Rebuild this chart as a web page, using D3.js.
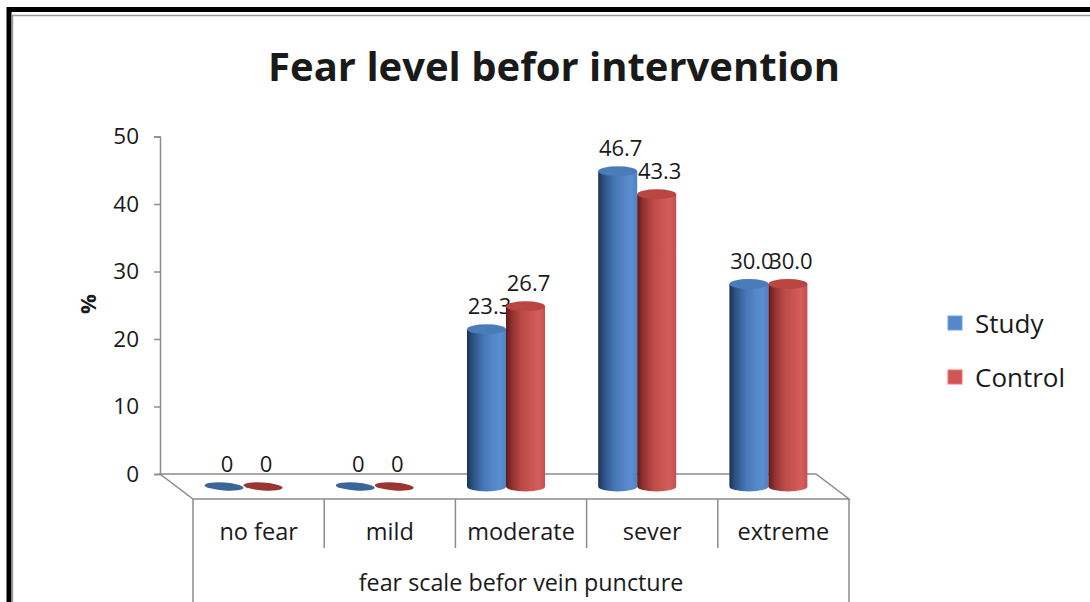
<!DOCTYPE html>
<html>
<head>
<meta charset="utf-8">
<script src="https://cdn.jsdelivr.net/npm/d3@7"></script>
<style>
  html, body { margin: 0; padding: 0; background: #fff; }
  svg { display: block; }
  text { font-family: "Open Sans", "DejaVu Sans", sans-serif; fill: #1a1a1a; }
</style>
</head>
<body>
<svg id="chart" width="1090" height="602"></svg>
<script>
// Fear level categories and percentages per group
const categories = ["no fear", "mild", "moderate", "sever", "extreme"];
const studyValues = [0, 0, 23.3, 46.7, 30.0];
const controlValues = [0, 0, 26.7, 43.3, 30.0];
const seriesNames = ["Study", "Control"];
const yTickValues = [0, 10, 20, 30, 40, 50];

const chartTitle = "Fear level befor intervention";
const xAxisTitle = "fear scale befor vein puncture";
const yAxisTitle = "%";

const seriesValues = [studyValues, controlValues];
const rows = categories.map((c, i) => ({
  category: c,
  values: seriesNames.map((s, j) => ({ series: s, value: seriesValues[j][i] }))
}));

const svg = d3.select("#chart");

// outer frame
svg.append("rect").attr("x", 0).attr("y", 0).attr("width", 1090).attr("height", 602).attr("fill", "#fff");
svg.append("path").attr("d", "M9,602 V9.5 H1090").attr("fill", "none").attr("stroke", "#000").attr("stroke-width", 5);
svg.append("path").attr("d", "M12.5,602 V15.5 H1090").attr("fill", "none").attr("stroke", "#9a9a9a").attr("stroke-width", 1.5);

// title
svg.append("text")
  .attr("x", 554).attr("y", 81)
  .attr("text-anchor", "middle")
  .attr("font-size", 40).attr("font-weight", 700)
  .text(chartTitle);

// 3D floor geometry: back wall edge and depth offset toward the viewer
const depthX = 33, depthY = 25;
const y = d3.scaleLinear().domain([0, 50]).range([474, 136.5]);
const xBack = d3.scaleBand().domain(categories).range([160, 816]);
const barW = 39;
const xSeries = d3.scaleBand().domain(seriesNames)
  .range([xBack.bandwidth() / 2 - barW + 1.5, xBack.bandwidth() / 2 + barW + 1.5]);

const axisColor = "#8c8c8c";

// category bracket lines under the floor
const frontX = d => xBack(d) + depthX;
const frontEnd = xBack.range()[1] + depthX;
const boundaries = categories.map(frontX).concat([frontEnd]);
svg.append("g").selectAll("line").data(boundaries).join("line")
  .attr("x1", d => d).attr("x2", d => d)
  .attr("y1", y(0) + depthY)
  .attr("y2", (d, i) => (i === 0 || i === boundaries.length - 1) ? 602 : 548)
  .attr("stroke", axisColor).attr("stroke-width", 1.5);

// floor outline
const x0 = xBack.range()[0], x1 = xBack.range()[1], yb = y(0);
svg.append("path")
  .attr("d", `M${x0},${yb} H${x1} L${x1 + depthX},${yb + depthY} H${x0 + depthX} Z`)
  .attr("fill", "#fff").attr("stroke", axisColor).attr("stroke-width", 1.5);

// vertical axis
const yAxisG = svg.append("g").attr("transform", `translate(${x0},0)`)
  .call(d3.axisLeft(y).tickValues(yTickValues).tickSize(6).tickPadding(15));
yAxisG.select(".domain").attr("stroke", axisColor).attr("stroke-width", 1.5);
yAxisG.selectAll(".tick line").attr("stroke", axisColor).attr("stroke-width", 1.5);
yAxisG.selectAll(".tick text")
  .attr("font-size", 22.5).attr("font-family", "Open Sans, sans-serif").attr("fill", "#1a1a1a");

svg.append("text")
  .attr("transform", "translate(96,304) rotate(-90)")
  .attr("text-anchor", "middle")
  .attr("font-size", 22).attr("font-weight", 700)
  .text(yAxisTitle);

// category labels and axis title
svg.append("g").selectAll("text").data(categories).join("text")
  .attr("x", d => frontX(d) + xBack.bandwidth() / 2)
  .attr("y", 540)
  .attr("text-anchor", "middle")
  .attr("font-size", 23.5)
  .text(d => d);

svg.append("text")
  .attr("x", (frontX(categories[0]) + frontEnd) / 2)
  .attr("y", 591)
  .attr("text-anchor", "middle")
  .attr("font-size", 23.3)
  .text(xAxisTitle);

// cylinder shading
const palette = {
  Study: { stops: ["#1a3254", "#2d5284", "#4577b5", "#5587c9", "#5a8ed2", "#4f81c2"], top: "#4b7cba", flat: "#3a6598" },
  Control: { stops: ["#5e1a19", "#8f302e", "#bd4b48", "#cd5754", "#d35e5b", "#c4504d"], top: "#b94643", flat: "#9a3533" }
};
const defs = svg.append("defs");
seriesNames.forEach(s => {
  const g = defs.append("linearGradient").attr("id", "grad-" + s)
    .attr("x1", "0%").attr("x2", "100%").attr("y1", "0%").attr("y2", "0%");
  const offs = [0, 0.15, 0.42, 0.68, 0.85, 1];
  palette[s].stops.forEach((c, i) => g.append("stop").attr("offset", offs[i]).attr("stop-color", c));
});

const rx = barW / 2, ry = 5;
const barsG = svg.append("g");
rows.forEach(row => {
  row.values.forEach(v => {
    const cx = xBack(row.category) + depthX / 2 + xSeries(v.series) + xSeries.bandwidth() / 2;
    const yBottom = y(0) + depthY / 2;
    const yTop = y(v.value) + depthY / 2;
    const g = barsG.append("g");
    if (v.value > 0) {
      g.append("path")
        .attr("d", `M${cx - rx},${yTop} V${yBottom} A${rx},${ry} 0 0 0 ${cx + rx},${yBottom} V${yTop} Z`)
        .attr("fill", `url(#grad-${v.series})`);
      g.append("ellipse")
        .attr("cx", cx).attr("cy", yTop).attr("rx", rx).attr("ry", ry)
        .attr("fill", palette[v.series].top);
    } else {
      g.append("ellipse")
        .attr("cx", cx).attr("cy", yTop).attr("rx", rx).attr("ry", ry - 1)
        .attr("transform", `rotate(4,${cx},${yTop})`)
        .attr("fill", palette[v.series].flat);
    }
    g.append("text")
      .attr("x", cx + 3).attr("y", yTop - 15)
      .attr("text-anchor", "middle")
      .attr("font-size", 22)
      .text(v.value === 0 ? "0" : d3.format(".1f")(v.value));
  });
});

// legend
const legend = svg.append("g").attr("transform", "translate(948,316)");
seriesNames.forEach((s, i) => {
  legend.append("rect").attr("x", 0).attr("y", i * 54).attr("width", 14).attr("height", 14)
    .attr("fill", palette[s].stops[3]).attr("stroke", d3.color(palette[s].stops[3]).brighter(0.6)).attr("stroke-width", 1);
  legend.append("text").attr("x", 27).attr("y", i * 54 + 17)
    .attr("font-size", 26).text(s);
});
</script>
</body>
</html>
